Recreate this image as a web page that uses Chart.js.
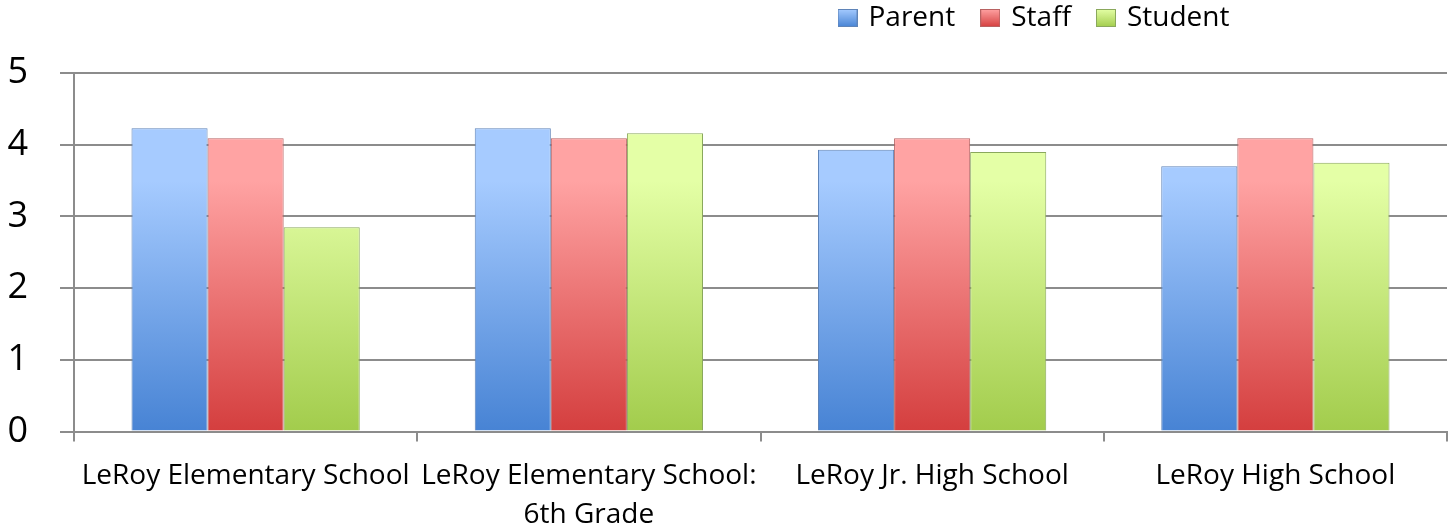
<!DOCTYPE html>
<html>
<head>
<meta charset="utf-8">
<script src="https://cdn.jsdelivr.net/npm/chart.js@4/dist/chart.umd.min.js"></script>
<style>
  html, body { margin: 0; padding: 0; background: #fff; }
  #wrap { width: 1449px; height: 525px; }
</style>
</head>
<body>
<div id="wrap"><canvas id="grafico" width="1449" height="525"></canvas></div>
<script>
var escolas = [
    "LeRoy Elementary School",
    ["LeRoy Elementary School:", "6th Grade"],
    "LeRoy Jr. High School",
    "LeRoy High School"
];
var parent = [4.23, 4.23, 3.93, 3.70];
var staff = [4.09, 4.09, 4.09, 4.09];
var student = [2.85, 4.16, 3.90, 3.75];
var yTicks = [0, 1, 2, 3, 4, 5];

// cores: topo claro, base escura, borda
var cores = {
    parent: ["#a6cbff", "#4783d4", "#5f84b8"],
    staff: ["#ffa3a3", "#d43e3e", "#b86262"],
    student: ["#e4ffa6", "#a2cc4c", "#8aa85c"]
};

function gradiente(par) {
    return function (ctx) {
        var area = ctx.chart.chartArea;
        if (!area) return par[1];
        var g = ctx.chart.ctx.createLinearGradient(0, area.top, 0, area.bottom);
        g.addColorStop(0, par[0]);
        g.addColorStop(0.3, par[0]);
        g.addColorStop(1, par[1]);
        return g;
    };
}

function caixaLegenda(par) {
    var c = document.createElement("canvas");
    c.width = 20; c.height = 18;
    var x = c.getContext("2d");
    var g = x.createLinearGradient(0, 0, 0, 18);
    g.addColorStop(0, par[0]);
    g.addColorStop(1, par[1]);
    x.fillStyle = g;
    x.fillRect(0, 0, 20, 18);
    x.strokeStyle = par[2];
    x.lineWidth = 1;
    x.strokeRect(0.5, 0.5, 19, 17);
    return c;
}

var moverLegenda = {
    id: "moverLegenda",
    afterLayout: function (chart) {
        var lg = chart.legend;
        var w = lg.right - lg.left;
        var h = lg.bottom - lg.top;
        var centro = 1035;
        lg.left = centro - w / 2;
        lg.right = centro + w / 2;
        lg.top = -24;
        lg.bottom = lg.top + h;
    }
};

function dataset(nome, dados, par) {
    return {
        label: nome,
        data: dados,
        backgroundColor: gradiente(par),
        borderColor: par[2],
        borderWidth: 1,
        borderSkipped: "bottom",
        barPercentage: 1,
        categoryPercentage: 0.665
    };
}

new Chart(document.getElementById("grafico"), {
    type: "bar",
    data: {
        labels: escolas,
        datasets: [
            dataset("Parent", parent, cores.parent),
            dataset("Staff", staff, cores.staff),
            dataset("Student", student, cores.student)
        ]
    },
    options: {
        responsive: false,
        animation: false,
        layout: { padding: { left: 0, right: 2, top: 7, bottom: -25 } },
        plugins: {
            tooltip: { enabled: false },
            legend: {
                position: "top",
                align: "center",
                labels: {
                    font: { family: "Open Sans", size: 28 },
                    color: "#000",
                    usePointStyle: true,
                    boxWidth: 14,
                    boxHeight: 18,
                    pointStyleWidth: 14,
                    padding: 28,
                    generateLabels: function (chart) {
                        var pares = [cores.parent, cores.staff, cores.student];
                        return chart.data.datasets.map(function (ds, i) {
                            return {
                                text: ds.label,
                                pointStyle: caixaLegenda(pares[i]),
                                fillStyle: pares[i][1],
                                strokeStyle: pares[i][2],
                                lineWidth: 1,
                                datasetIndex: i
                            };
                        });
                    }
                }
            }
        },
        scales: {
            x: {
                afterFit: function (axis) {
                    axis.paddingLeft = 0;
                    axis.paddingRight = 0;
                },
                grid: {
                    offset: true,
                    drawOnChartArea: false,
                    drawTicks: true,
                    tickLength: 10,
                    color: "#8c8c8c",
                    lineWidth: 2
                },
                border: { color: "#8c8c8c", width: 2 },
                ticks: {
                    font: { family: "Open Sans", size: 28, lineHeight: 1.4 },
                    color: "#000",
                    maxRotation: 0,
                    autoSkip: false,
                    padding: 15
                }
            },
            y: {
                min: 0,
                max: 5,
                afterBuildTicks: function (axis) {
                    axis.ticks = yTicks.map(function (v) { return { value: v }; });
                },
                afterFit: function (axis) {
                    axis.width = 74;
                },
                grid: {
                    color: "#8c8c8c",
                    lineWidth: 2,
                    tickLength: 14
                },
                border: { color: "#8c8c8c", width: 2 },
                ticks: {
                    font: { family: "Open Sans", size: 36 },
                    color: "#000",
                    padding: 32
                }
            }
        }
    },
    plugins: [moverLegenda]
});
</script>
</body>
</html>
